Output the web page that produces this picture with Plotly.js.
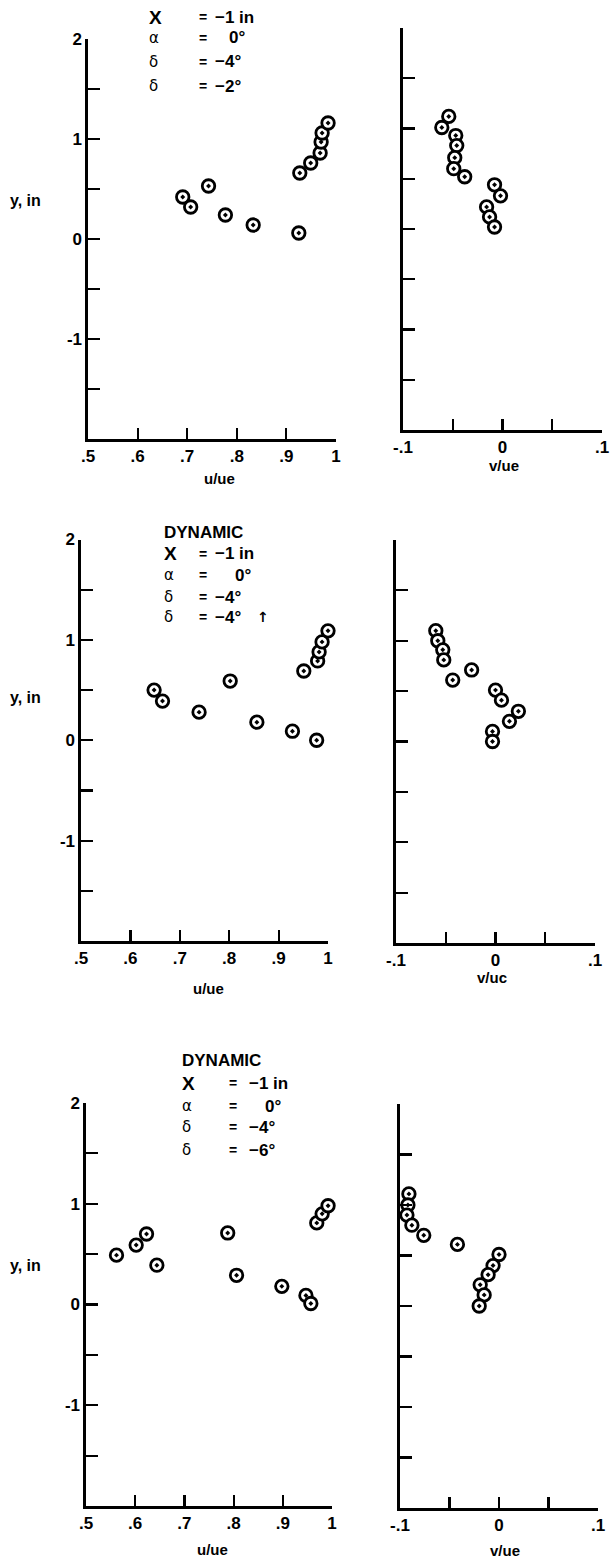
<!DOCTYPE html>
<html>
<head>
<meta charset="utf-8">
<script src="https://cdn.plot.ly/plotly-3.0.1.min.js"></script>
<style>html,body{margin:0;padding:0;background:#fff;}#chart{width:610px;height:1561px;}</style>
</head>
<body>
<div id="chart"></div>
<script>
// ---------- DATA ----------
// Panel A: X=-1 in, alpha=0, delta=-4, delta=-2
const uA  = [0.691,0.707,0.743,0.777,0.833,0.925,0.927,0.949,0.968,0.970,0.972,0.984];
const yuA = [0.42,0.32,0.53,0.24,0.14,0.06,0.66,0.76,0.86,0.97,1.06,1.16];
const vA  = [-0.054,-0.061,-0.047,-0.046,-0.048,-0.049,-0.038,-0.008,-0.002,-0.016,-0.013,-0.008];
const yvA = [1.12,1.01,0.93,0.83,0.71,0.60,0.52,0.44,0.33,0.22,0.12,0.02];
// Panel B: DYNAMIC, delta=-4 (arrow)
const uB  = [0.648,0.665,0.739,0.802,0.856,0.928,0.977,0.951,0.979,0.982,0.988,1.000];
const yuB = [0.50,0.39,0.28,0.59,0.18,0.09,0.00,0.69,0.79,0.88,0.98,1.09];
const vB  = [-0.060,-0.058,-0.053,-0.052,-0.043,-0.024,0.000,0.006,0.023,0.014,-0.003,-0.003];
const yvB = [1.10,1.00,0.91,0.81,0.61,0.71,0.51,0.41,0.30,0.20,0.10,0.00];
// Panel C: DYNAMIC, delta=-6
const uC  = [0.562,0.602,0.623,0.644,0.788,0.806,0.898,0.947,0.957,0.969,0.980,0.992,1.003];
const yuC = [0.49,0.59,0.70,0.39,0.71,0.29,0.18,0.09,0.01,0.81,0.90,0.98,1.10];
const vC  = [-0.091,-0.092,-0.093,-0.088,-0.076,-0.042,0.000,-0.006,-0.011,-0.019,-0.015,-0.020];
const yvC = [1.11,1.00,0.90,0.80,0.70,0.61,0.51,0.40,0.31,0.21,0.11,0.00];

const uTickVals = [0.5,0.6,0.7,0.8,0.9,1.0];
const uTickText = ['.5','.6','.7','.8','.9','1'];
const vTickVals = [-0.1,-0.05,0,0.05,0.1];
const vTickText = ['-.1','','0','','.1'];
const yTickVals = [-1.5,-1,-0.5,0,0.5,1,1.5,2];
const yTickText = ['','-1','','0','','1','','2'];

const headerA = [['X','−1 in'],['α','0°'],['δ','−4°'],['δ','−2°']];
const headerB = [['X','−1 in'],['α','0°'],['δ','−4°'],['δ','−4°']];
const headerC = [['X','−1 in'],['α','0°'],['δ','−4°'],['δ','−6°']];
const vTitles = ['v/ue','v/uc','v/ue'];

// ---------- LAYOUT (pixel geometry) ----------
const W = 610, H = 1561;
const fx = p => p / W;
const fy = p => 1 - p / H;
const FONT = 'Liberation Sans';
const B = s => '<b>' + s + '</b>';

const geo = [
  {uL:88, uR:336, uT:39,    uB:439, vL:403, vR:602, vT:28,  vB:430,
   ylab:200, ulabY:479, ulabX:219, vlabY:465, vlabX:504,
   hx:147, hEq:197, hVal:213, hZero:227, hY:[17,38,62,86], dyn:null, arrow:false},
  {uL:81, uR:328, uT:539.5, uB:941, vL:396, vR:595, vT:540, vB:943,
   ylab:697, ulabY:988, ulabX:208, vlabY:977, vlabX:492,
   hx:162, hEq:197, hVal:213, hZero:233, hY:[554,575,597,617], dyn:532, arrow:true},
  {uL:86, uR:332, uT:1103,  uB:1506, vL:400, vR:598, vT:1104, vB:1508,
   ylab:1265, ulabY:1549, ulabX:212, vlabY:1550, vlabX:505,
   hx:180, hEq:227, hVal:247, hZero:263, hY:[1083,1106,1127,1150], dyn:1060, arrow:false}
];

const uData = [[uA,yuA],[uB,yuB],[uC,yuC]];
const vData = [[vA,yvA],[vB,yvB],[vC,yvC]];
const headers = [headerA, headerB, headerC];

const marker = {symbol:'circle-dot', size:12.5, color:'#ffffff', line:{color:'#000000', width:2.8}};
const tickFont = {family:FONT, size:17, color:'#000'};

const traces = [];
const layout = {
  width:W, height:H, margin:{l:0,r:0,t:0,b:0},
  paper_bgcolor:'#fff', plot_bgcolor:'rgba(0,0,0,0)',
  showlegend:false, annotations:[]
};

function axisCommon(extra){
  return Object.assign({
    showline:true, linecolor:'#000', linewidth:2.6,
    ticks:'inside', tickcolor:'#000', tickwidth:2.2,
    showgrid:false, zeroline:false, tickfont:tickFont, fixedrange:true
  }, extra);
}

geo.forEach((g,i)=>{
  const li = 2*i+1, ri = 2*i+2;
  const xl = 'x'+li, yl = 'y'+li, xr = 'x'+ri, yr = 'y'+ri;
  traces.push({type:'scatter', mode:'markers', x:uData[i][0], y:uData[i][1],
    xaxis:xl, yaxis:yl, marker:marker, cliponaxis:false, hoverinfo:'skip'});
  traces.push({type:'scatter', mode:'markers', x:vData[i][0], y:vData[i][1],
    xaxis:xr, yaxis:yr, marker:marker, cliponaxis:false, hoverinfo:'skip'});

  layout['xaxis'+li] = axisCommon({domain:[fx(g.uL),fx(g.uR)], range:[0.5,1.0], anchor:yl,
    tickvals:uTickVals, ticktext:uTickText.map(B), ticklen:11});
  layout['yaxis'+li] = axisCommon({domain:[fy(g.uB),fy(g.uT)], range:[-2,2], anchor:xl,
    tickvals:yTickVals, ticktext:yTickText.map(B), ticklen:12});
  layout['xaxis'+ri] = axisCommon({domain:[fx(g.vL),fx(g.vR)], range:[-0.1,0.1], anchor:yr,
    tickvals:vTickVals, ticktext:vTickText.map(B), ticklen:11});
  layout['yaxis'+ri] = axisCommon({domain:[fy(g.vB),fy(g.vT)], range:[-2,2], anchor:xr,
    tickvals:yTickVals, showticklabels:false, ticklen:12});

  const A = layout.annotations;
  const f = (s, fam)=>({family:fam||FONT, size:s, color:'#000'});
  const ann = (x,y,text,font,xa)=>A.push({xref:'paper', yref:'paper', x:fx(x), y:fy(y),
    xanchor:xa||'left', yanchor:'middle', text:text, showarrow:false, font:font});
  ann(8, g.ylab, B('y, in'), f(16));
  ann(g.ulabX, g.ulabY, B('u/ue'), f(15), 'center');
  ann(g.vlabX, g.vlabY, B(vTitles[i]), f(15), 'center');
  if (g.dyn !== null) ann(g.hx, g.dyn, B('DYNAMIC'), f(17));
  headers[i].forEach((row,k)=>{
    const isX = row[0]==='X';
    ann(g.hx, g.hY[k], isX ? B(row[0]) : row[0], isX ? f(19) : f(15, 'DejaVu Sans'));
    ann(g.hEq, g.hY[k], B('='), f(14));
    const vx = row[1]==='0°' ? g.hZero : g.hVal;
    ann(vx, g.hY[k], B(row[1]), f(17));
  });
  if (g.arrow) ann(g.hVal + 42, g.hY[3], B('↑'), f(14, 'DejaVu Sans'));
});

Plotly.newPlot('chart', traces, layout, {displayModeBar:false, staticPlot:true});
</script>
</body>
</html>
